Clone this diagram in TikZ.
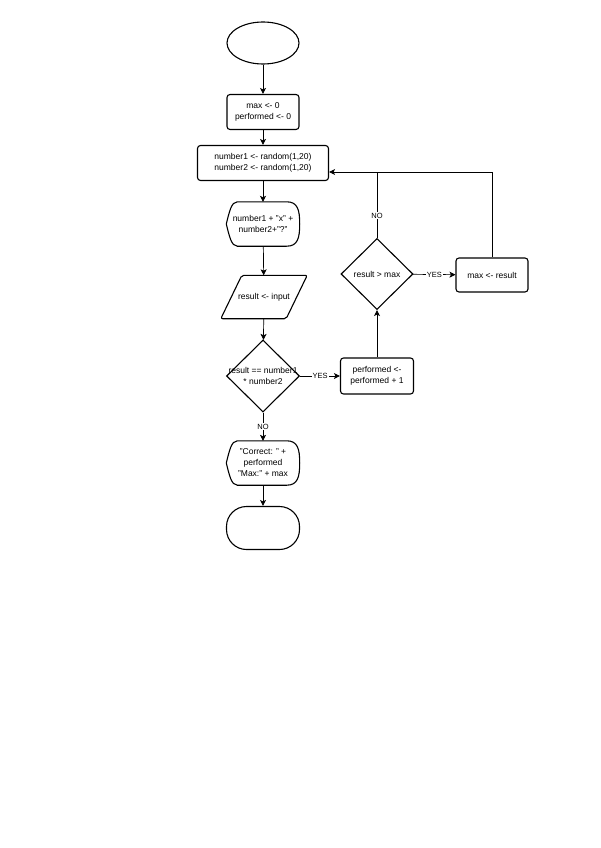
\documentclass[tikz,border=0pt]{standalone}
\usepackage{fontspec}
\setmainfont{Liberation Sans}
\usetikzlibrary{shapes.geometric,arrows.meta,calc}

\tikzset{
  box/.style={draw, line width=1.1pt, rounded corners=3pt, align=center,
    minimum width=72pt, minimum height=35pt, inner sep=1pt},
  decision/.style={draw, line width=1.1pt, diamond, inner sep=0pt,
    minimum width=73pt, minimum height=72pt},
  terminal/.style={draw, line width=1.1pt, align=center, inner sep=0pt},
  flat/.style={align=center, inner sep=0pt, minimum width=73pt},
  line/.style={draw, line width=0.7pt, -{Stealth[length=6pt,width=6pt,inset=1.5pt]}},
  tag/.style={fill=white, inner sep=1pt, font=\fontsize{7.5}{9}\selectfont}
}

\begin{document}
\begin{tikzpicture}[x=1pt, y=-1pt, font=\fontsize{8.5}{11}\selectfont]
  \path[fill=white] (0,0) rectangle (600,848);

  \node[terminal, ellipse, minimum width=72pt, minimum height=42pt] (start) at (263,43) {};
  \node[box] (init) at (263,112) {max <- 0\\performed <- 0};
  \node[box, minimum width=131pt] (rand) at (263,163) {number1 <- random(1,20)\\number2 <- random(1,20)};
  \node[flat, minimum height=44pt] (ask) at (263,224) {number1 + "x" +\\number2+"?"};
  \node[flat, minimum width=86pt, minimum height=43pt] (read) at (264,297) {result <- input};
  \node[decision, label={[align=center]center:result == number1\\* number2}] (check) at (263,376) {};
  \node[box, minimum width=73pt, minimum height=36pt] (count) at (377,376) {performed <-\\performed + 1};
  \node[decision, minimum width=72pt, minimum height=71pt, label={center:result > max}] (best) at (377,274) {};
  \node[box, minimum width=72pt, minimum height=34pt] (update) at (492,275) {max <- result};
  \node[flat, minimum height=44pt] (show) at (263,463) {"Correct: " +\\performed\\"Max:" + max};
  \node[terminal, rounded corners=20pt, minimum width=73pt, minimum height=43pt] (stop) at (263,528) {};

  % display shapes
  \foreach \n in {ask,show}
    \draw[line width=1.1pt] (\n.west) .. controls ($(\n.west)+(3,-12)$) and ($(\n.north west)+(5,0)$) .. ($(\n.north west)+(11,0)$)
      -- ($(\n.north east)+(-13,0)$) .. controls ($(\n.north east)+(-2,0)$) and ($(\n.east)+(0,-14)$) .. (\n.east)
      .. controls ($(\n.east)+(0,14)$) and ($(\n.south east)+(-2,0)$) .. ($(\n.south east)+(-13,0)$)
      -- ($(\n.south west)+(11,0)$) .. controls ($(\n.south west)+(5,0)$) and ($(\n.west)+(3,12)$) .. (\n.west);

  % input
  \draw[line width=1.1pt, rounded corners=2pt] ($(read.north west)+(21,0)$) -- (read.north east)
    -- ($(read.south east)+(-21,0)$) -- (read.south west) -- cycle;

  \coordinate (back) at ($(rand.east)+(0,9)$);

  \path[line] (start) -- (init);
  \path[line] (init) -- (rand);
  \path[line] (rand) -- (ask);
  \path[line] (ask) -- (read);
  \path[line] (read) -- (check);
  \path[line] (check) -- node[tag] {YES} (count);
  \path[line] (check) -- node[tag, pos=0.5] {NO} (show);
  \path[line] (show) -- (stop);
  \path[line] (count) -- (best);
  \path[line] (best) -- node[tag, pos=0.5] {YES} (update);
  \path[line] (best.north) -- node[tag, pos=0.34] {NO} (best.north |- back) -- (back);
  \draw[line width=0.7pt] (update.north) |- (best.north |- back);
\end{tikzpicture}
\end{document}
